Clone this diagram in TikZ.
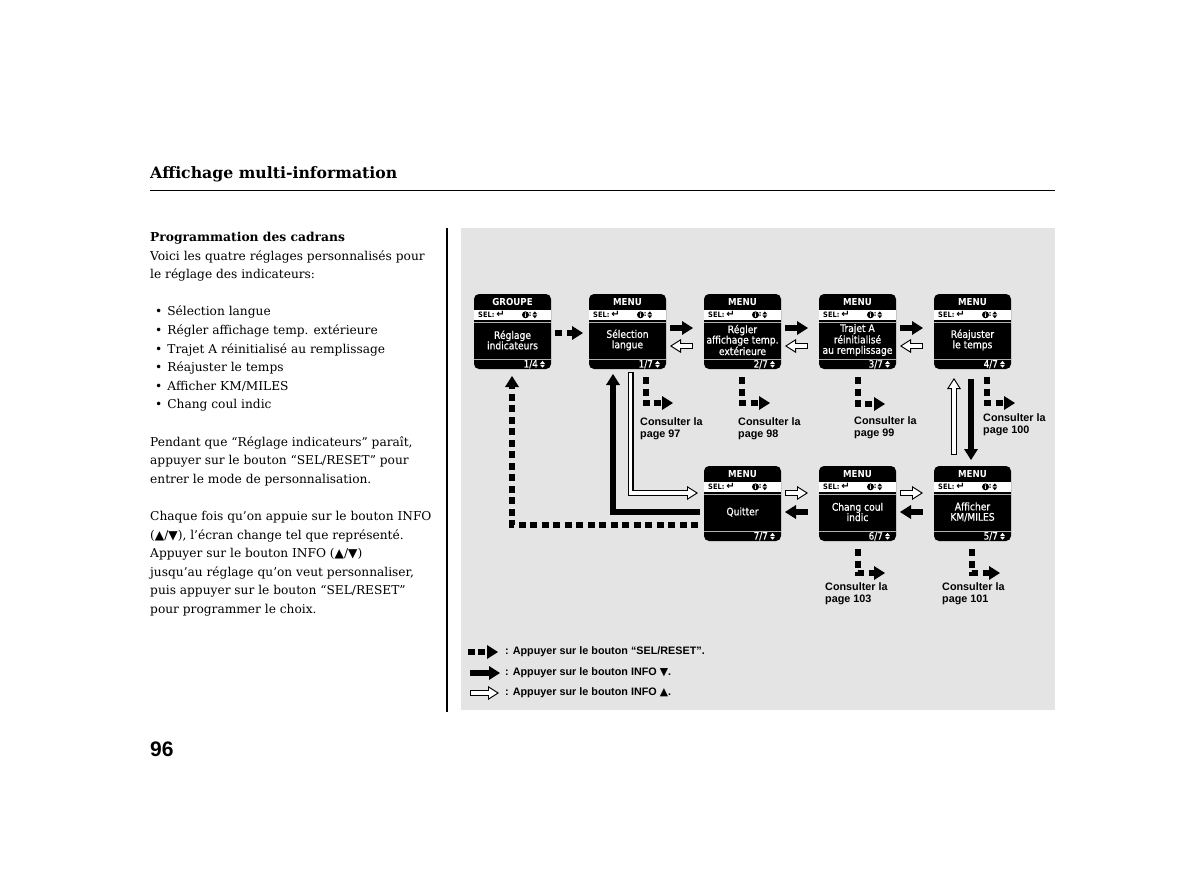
\documentclass[tikz,border=0pt]{standalone}
\usepackage{fontspec}
\setmainfont{DejaVu Serif}
\newfontfamily\hsans{Liberation Sans}
\newfontfamily\symf{DejaVu Sans}
\newfontfamily\lcdf[FakeStretch=0.9]{DejaVu Sans}
\newfontfamily\lcdm[FakeStretch=0.88,FakeBold=0.6]{DejaVu Sans}
\usetikzlibrary{arrows.meta,calc}
\definecolor{panelgray}{RGB}{228,228,228}
\tikzset{
 lcdbox/.style={rectangle, rounded corners=5pt, fill=black, minimum width=77pt, minimum height=75pt, inner sep=0pt, outer sep=0pt},
 lcdline/.style={draw=gray!60, line width=0.5pt},
 lcdtitle/.style={text=white, font=\lcdf\bfseries\fontsize{9.6}{10}\selectfont, inner sep=0pt},
 lcdsel/.style={text=black, font=\lcdf\bfseries\fontsize{7.4}{8}\selectfont, inner sep=0pt},
 lcdret/.style={text=black, font=\symf\bfseries\fontsize{10}{10}\selectfont, inner sep=0pt},
 infoc/.style={circle, fill=black, text=white, inner sep=0pt, minimum size=7pt, font=\lcdf\bfseries\fontsize{6}{6}\selectfont},
 lcdbody/.style={text=white, align=center, font=\lcdm\fontsize{10.4}{10.4}\selectfont, inner sep=0pt},
 lcdnum/.style={text=white, font=\lcdm\fontsize{10}{10}\selectfont, inner sep=0pt},
 selarr/.style={line width=6pt, dash pattern=on 7pt off 4.5pt, -{Triangle[length=11pt,width=14pt,line width=0pt]}},
 dnarr/.style={line width=5.5pt, miter limit=10, -{Triangle[length=11pt,width=14pt,line width=0pt]}},
 uparr/.style={white, line width=3.8pt, -{Triangle[length=7.85pt,width=10pt,line width=0pt]}, shorten >=2.05pt, shorten <=1.1pt,
   preaction={draw=black, line width=6pt, -{Triangle[length=11pt,width=14pt,line width=0pt]}, shorten >=0pt, shorten <=0pt}},
 cons/.style={anchor=north west, inner sep=0pt, align=left, font=\hsans\bfseries\fontsize{10.8}{12}\selectfont},
 leg/.style={anchor=west, inner sep=0pt, font=\hsans\bfseries\fontsize{10.8}{11}\selectfont},
 lefttext/.style={anchor=north west, inner sep=0pt, align=left, font=\fontsize{12.2}{18.6}\selectfont},
}
\newcommand\updn[3]{%
 \fill[#3] (#1-2.4,#2-0.5) -- (#1+2.4,#2-0.5) -- (#1,#2-3.4) -- cycle;
 \fill[#3] (#1-2.4,#2+0.5) -- (#1+2.4,#2+0.5) -- (#1,#2+3.4) -- cycle;}
\newcommand\lcd[6]{%
 \node[lcdbox, anchor=north west] (#1) at (#2,#3) {};
 \begin{scope}[shift={(#1.north west)}]
  \fill[white] (0,16) rectangle (77,25.5);
  \draw[lcdline] (0,28.5) -- (77,28.5);
  \draw[lcdline] (0,65) -- (77,65);
  \node[lcdtitle] (#1-t) at (38.5,8) {#4};
  \node[lcdsel, anchor=west] (#1-s) at (4,20.8) {SEL:};
  \node[lcdret] (#1-r) at (26.5,20.6) {↵};
  \node[infoc] (#1-i) at (51.5,20.8) {i};
  \node[lcdsel] (#1-c) at (56.3,20.6) {:};
  \updn{60.8}{20.8}{black}
  \node[lcdbody] (#1-b) at (38.5,46) {#5};
  \node[lcdnum, anchor=east] (#1-n) at (64,70.3) {#6};
  \updn{68.5}{70.3}{white}
 \end{scope}}
\begin{document}
\begin{tikzpicture}[x=1pt,y=-1pt]
\useasboundingbox (0,0) rectangle (1200,892);
\fill[white] (0,0) rectangle (1200,892);
% header
\node[anchor=base west, inner sep=0pt, font=\bfseries\fontsize{15.7}{18}\selectfont] (title) at (150,178) {Affichage multi-information};
\draw[line width=0.9pt] (150,190) -- (1055,190);
\draw[line width=1.1pt] (447,228) -- (447,712);
\fill[panelgray] (461,228) rectangle (1055,710);
% left text
\node[lefttext] (txt) at (150,232) {{\bfseries\fontsize{12.3}{18.6}\selectfont Programmation des cadrans}\\
Voici les quatre réglages personnalisés pour\\
le réglage des indicateurs:\\[18.6pt]
\hspace*{5pt}•\hspace{5pt}Sélection langue\\
\hspace*{5pt}•\hspace{5pt}Régler affichage temp. extérieure\\
\hspace*{5pt}•\hspace{5pt}Trajet A réinitialisé au remplissage\\
\hspace*{5pt}•\hspace{5pt}Réajuster le temps\\
\hspace*{5pt}•\hspace{5pt}Afficher KM/MILES\\
\hspace*{5pt}•\hspace{5pt}Chang coul indic\\[18.6pt]
Pendant que “Réglage indicateurs” paraît,\\
appuyer sur le bouton “SEL/RESET” pour\\
entrer le mode de personnalisation.\\[18.6pt]
Chaque fois qu’on appuie sur le bouton INFO\\
({\symf ▲}/{\symf ▼}), l’écran change tel que représenté.\\
Appuyer sur le bouton INFO ({\symf ▲}/{\symf ▼})\\
jusqu’au réglage qu’on veut personnaliser,\\
puis appuyer sur le bouton “SEL/RESET”\\
pour programmer le choix.};
\node[anchor=base west, inner sep=0pt, font=\hsans\bfseries\fontsize{21}{21}\selectfont] (pg) at (150,756) {96};
% screens
\lcd{sReg}{474}{294}{GROUPE}{Réglage\\indicateurs}{1/4}
\lcd{sLang}{589}{294}{MENU}{Sélection\\langue}{1/7}
\lcd{sTemp}{704}{294}{MENU}{Régler\\affichage temp.\\extérieure}{2/7}
\lcd{sTrip}{819}{294}{MENU}{Trajet A\\réinitialisé\\au remplissage}{3/7}
\lcd{sTime}{934}{294}{MENU}{Réajuster\\le temps}{4/7}
\lcd{sQuit}{704}{466}{MENU}{Quitter}{7/7}
\lcd{sColor}{819}{466}{MENU}{Chang coul\\indic}{6/7}
\lcd{sUnit}{934}{466}{MENU}{Afficher\\KM/MILES}{5/7}
% top row connectors
\draw[selarr] ($(sReg.north east)+(4,39)$) -- ($(sLang.north west)+(-6,39)$);
\foreach \a/\b in {sLang/sTemp,sTemp/sTrip,sTrip/sTime}{
 \draw[dnarr] ($(\a.north east)+(4,34)$) -- ($(\b.north west)+(-11,34)$);
 \draw[uparr] ($(\b.north west)+(-11,52)$) -- ($(\a.north east)+(4,52)$);
}
% right column
\draw[dnarr] ($(sTime.south west)+(37,10)$) -- ($(sUnit.north west)+(37,-6)$);
\draw[uparr] ($(sUnit.north west)+(20,-11)$) -- ($(sTime.south west)+(20,9)$);
% bottom row
\foreach \a/\b in {sUnit/sColor,sColor/sQuit}{
 \draw[dnarr] ($(\a.north west)+(-11,46)$) -- ($(\b.north east)+(4,46)$);
 \draw[uparr] ($(\b.north east)+(4,27)$) -- ($(\a.north west)+(-11,27)$);
}
% loops back
\draw[dnarr] ($(sQuit.north west)+(-4,46)$) -| ($(sLang.south west)+(24,5)$);
\draw[uparr] ($(sLang.south west)+(41.5,3)$) |- ($(sQuit.north west)+(-6,27)$);
\draw[selarr] ($(sQuit.north west)+(-6,59)$) -| ($(sReg.south west)+(38,7)$);
% callouts
\coordinate (k97) at ($(sLang.south west)+(84,34)$);
\coordinate (k98) at ($(sTemp.south west)+(66,34)$);
\coordinate (k99) at ($(sTrip.south west)+(66,35)$);
\coordinate (k100) at ($(sTime.south west)+(81,34)$);
\coordinate (k103) at ($(sColor.south west)+(66,32)$);
\coordinate (k101) at ($(sUnit.south west)+(66,32)$);
\draw[selarr] ($(sLang.south west)+(56.5,8)$) |- (k97);
\draw[selarr] ($(sTemp.south west)+(38,8)$) |- (k98);
\draw[selarr] ($(sTrip.south west)+(38.5,8)$) |- (k99);
\draw[selarr] ($(sTime.south west)+(53,8)$) |- (k100);
\draw[selarr] ($(sColor.south west)+(39,8)$) |- (k103);
\draw[selarr] ($(sUnit.south west)+(38,8)$) |- (k101);
\node[cons] (t97) at (640,417) {Consulter la\\page 97};
\node[cons] (t98) at (738,417) {Consulter la\\page 98};
\node[cons] (t99) at (854,416) {Consulter la\\page 99};
\node[cons] (t100) at (983,413) {Consulter la\\page 100};
\node[cons] (t103) at (825,582) {Consulter la\\page 103};
\node[cons] (t101) at (942,582) {Consulter la\\page 101};
% legend
\coordinate (la1) at (468,652); \coordinate (la2) at (498,652);
\coordinate (lb1) at (470,673); \coordinate (lb2) at (500,673);
\coordinate (lc1) at (470,693); \coordinate (lc2) at (499,693);
\draw[selarr, dash pattern=on 7pt off 3pt] (la1) -- (la2);
\draw[dnarr] (lb1) -- (lb2);
\draw[uparr] (lc1) -- (lc2);
\node[leg] (lt1) at (505,652) {: Appuyer sur le bouton “SEL/RESET”.};
\node[leg] (lt2) at (505,673) {: Appuyer sur le bouton INFO {\symf ▼}.};
\node[leg] (lt3) at (505,693) {: Appuyer sur le bouton INFO {\symf ▲}.};
\end{tikzpicture}
\end{document}
